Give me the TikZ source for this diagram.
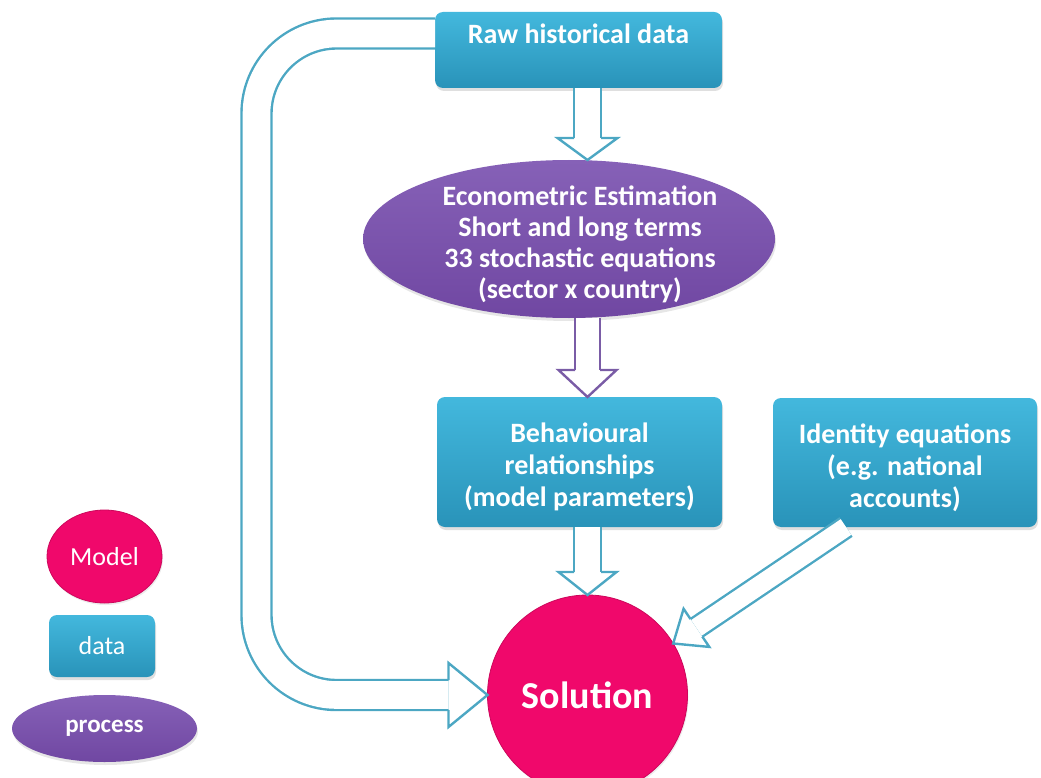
\documentclass[tikz,border=0pt]{standalone}
\usepackage{fontspec}
\setmainfont{Carlito}
\usetikzlibrary{calc,shapes.geometric,shadows}

\definecolor{boxtop}{HTML}{43B8DD}
\definecolor{boxbot}{HTML}{2993B9}
\definecolor{proctop}{HTML}{8661B7}
\definecolor{procbot}{HTML}{7047A2}
\definecolor{modelpink}{HTML}{F0086B}
\definecolor{arrowblue}{HTML}{4CA7C3}
\definecolor{arrowpurple}{HTML}{7A5CA6}

\tikzset{
  datanode/.style={rounded corners=8pt, top color=boxtop, bottom color=boxbot,
    text=white, align=center, inner sep=0pt, outer sep=0pt,
    font=\bfseries\fontsize{28}{32}\selectfont,
    drop shadow={opacity=0.25, shadow xshift=1pt, shadow yshift=-3pt}},
  processnode/.style={ellipse, top color=proctop, bottom color=procbot,
    text=white, align=center, inner sep=0pt, outer sep=0pt,
    font=\bfseries\fontsize{28}{31}\selectfont,
    drop shadow={opacity=0.2, shadow xshift=1pt, shadow yshift=-3pt}},
  modelnode/.style={ellipse, fill=modelpink, draw=modelpink!85!black, line width=0.8pt,
    text=white, align=center, inner sep=0pt, outer sep=0pt,
    drop shadow={opacity=0.15, shadow xshift=1pt, shadow yshift=-2pt}},
  arrowline/.style={line width=2.4pt},
}

% open head of a hollow arrow: colour, from, tip, stem half width, head half width, head length
\newcommand\hollowhead[6]{%
  \draw[#1, arrowline, line join=miter]
    ($(#3)!#6pt!(#2)!#4pt!90:(#2)$) -- ($(#3)!#6pt!(#2)!#5pt!90:(#2)$) -- (#3)
    -- ($(#3)!#6pt!(#2)!#5pt!-90:(#2)$) -- ($(#3)!#6pt!(#2)!#4pt!-90:(#2)$);}
% straight hollow arrow
\newcommand\blockarrow[6]{%
  \draw[#1, arrowline, double=white, double distance={2*#4pt-2.4pt}, shorten >=#6pt] (#2) -- (#3);
  \hollowhead{#1}{#2}{#3}{#4}{#5}{#6}}
% lines of a node, lowered a little
\newcommand\lowered[2]{\raisebox{-5pt}[\height][\depth]{\parbox{#1}{\centering #2}}}

\begin{document}
\begin{tikzpicture}[x=1pt, y=-1pt]
	\useasboundingbox (0,0) rectangle (1041,778);

	\node[datanode, minimum width=287pt, text height=32pt, text depth=44pt] (raw) at (578.5,50) {Raw historical data};
	\node[processnode, minimum width=412pt, minimum height=158pt, inner ysep=-7pt, inner xsep=-8pt] (econ) at (569,239) {\hspace*{22pt}\lowered{280pt}{Econometric Estimation\\Short and long terms\\33 stochastic equations\\(sector x country)}};
	\node[datanode, minimum width=285pt, minimum height=130pt] (behav) at (579.5,462) {\lowered{280pt}{Behavioural\\relationships\\(model parameters)}};
	\node[datanode, minimum width=264pt, minimum height=129pt] (ident) at (905,462.5) {\lowered{260pt}{Identity equations\\(e.g. national\\accounts)}};
	\node[modelnode, circle, minimum size=200pt, font=\bfseries\fontsize{38}{44}\selectfont] (sol) at (587.5,695) {Solution};

	% legend
	\node[modelnode, minimum width=115pt, minimum height=93pt, font=\fontsize{26}{30}\selectfont] (keymodel) at (104.5,556.5) {Model};
	\node[datanode, minimum width=106pt, minimum height=62pt, font=\fontsize{26}{30}\selectfont] (keydata) at (102,646) {data};
	\node[processnode, minimum width=185pt, minimum height=67pt, font=\bfseries\fontsize{25}{28}\selectfont] (keyprocess) at (104.5,728.5) {process};

	% arrows
	\blockarrow{arrowblue}{raw.south -| sol.north}{econ.north -| sol.north}{13.5}{30}{22}
	\blockarrow{arrowpurple}{econ.south -| sol.north}{behav.north -| sol.north}{12.5}{29}{27}
	\blockarrow{arrowblue}{behav.south -| sol.north}{sol.north}{13.5}{29}{23}
	\coordinate (istart) at ([xshift=-59pt]ident.south);
	\blockarrow{arrowblue}{istart}{sol.31}{10.6}{23}{28}
	\coordinate (bend) at ([xshift=-231pt]sol.west);
	\draw[arrowblue, arrowline, double=white, double distance=27.6pt, rounded corners=80pt]
		([yshift=16.5pt]raw.west) -| (bend) -- ([xshift=-39pt]sol.west);
	\hollowhead{arrowblue}{bend}{sol.west}{15}{32}{39}
\end{tikzpicture}
\end{document}
